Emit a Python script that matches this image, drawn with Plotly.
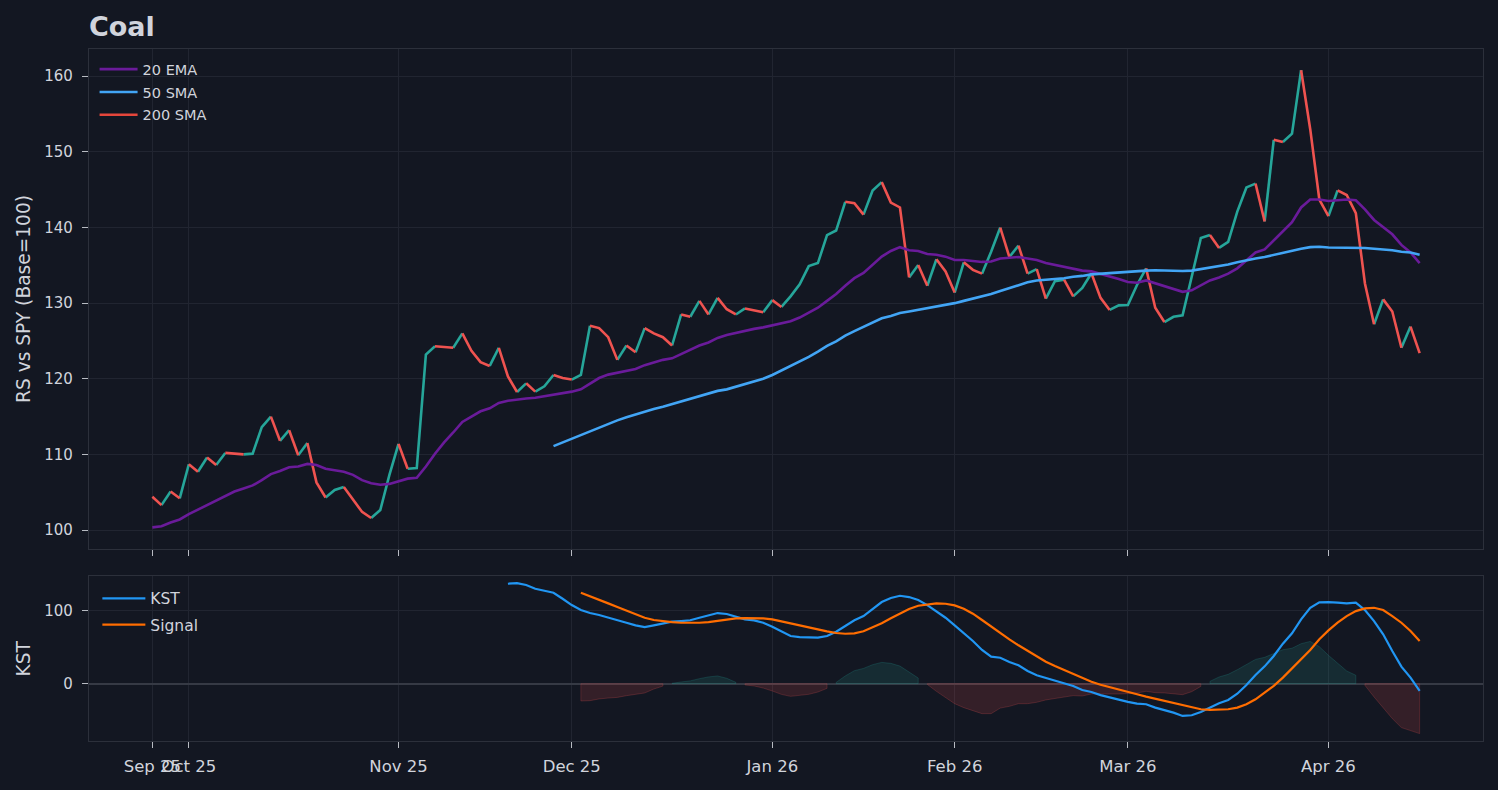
import pandas as pd
import plotly.graph_objects as go

# ---------------- data ----------------
holidays = ["2025-11-27", "2025-12-25", "2026-01-01", "2026-01-19", "2026-02-16", "2026-04-03"]
dates = [d.strftime("%Y-%m-%d") for d in pd.bdate_range("2025-09-25", "2026-04-16")
         if d.strftime("%Y-%m-%d") not in holidays]

rs = [104.4, 103.3, 105.1, 104.2, 108.7, 107.7, 109.6, 108.6, 110.2, 110.1,
      110.0, 110.1, 113.6, 115.0, 111.8, 113.2, 109.9, 111.5, 106.3, 104.3,
      105.3, 105.7, 104.0, 102.4, 101.6, 102.65, 107.3, 111.4, 108.1, 108.2,
      123.2, 124.3, 124.2, 124.1, 126.0, 123.7, 122.2, 121.7, 124.1, 120.3,
      118.25, 119.4, 118.3, 119.0, 120.5, 120.1, 119.9, 120.5, 127.0, 126.7,
      125.5, 122.5, 124.4, 123.5, 126.7, 126.0, 125.5, 124.4, 128.5, 128.2,
      130.3, 128.5, 130.7, 129.2, 128.5, 129.3, 129.1, 128.8, 130.4, 129.5,
      130.9, 132.5, 134.9, 135.3, 139.0, 139.6, 143.4, 143.2, 141.7, 144.9,
      146.0, 143.3, 142.65, 133.4, 135.05, 132.3, 135.8, 134.2, 131.4, 135.4,
      134.4, 133.9, 136.8, 140.0, 136.1, 137.6, 133.9, 134.5, 130.6, 132.9,
      133.1, 130.9, 132.0, 133.95, 130.7, 129.1, 129.7, 129.75, 132.4, 134.6,
      129.4, 127.5, 128.2, 128.4, 133.3, 138.6, 139.0, 137.3, 138.1, 142.1,
      145.3, 145.8, 140.8, 151.6, 151.3, 152.4, 160.8, 153.0, 143.7, 141.5,
      144.9, 144.3, 141.9, 132.6, 127.2, 130.5, 128.9, 124.1, 126.9, 123.4]

ema20 = [100.35, 100.5, 101.0, 101.4, 102.1, 102.7, 103.4, 104.0, 104.5, 105.1,
         105.5, 105.9, 106.6, 107.4, 107.8, 108.3, 108.4, 108.75, 108.6, 108.1,
         107.9, 107.7, 107.3, 106.6, 106.2, 106.0, 106.1, 106.5, 106.8, 106.9,
         108.4, 110.1, 111.6, 112.9, 114.3, 115.0, 115.7, 116.1, 116.8, 117.1,
         117.3, 117.4, 117.5, 117.7, 117.9, 118.1, 118.3, 118.6, 119.4, 120.1,
         120.55, 120.8, 121.0, 121.3, 121.8, 122.2, 122.5, 122.7, 123.25, 123.8,
         124.4, 124.8, 125.4, 125.8, 126.1, 126.3, 126.6, 126.8, 127.1, 127.3,
         127.6, 128.1, 128.7, 129.4, 130.3, 131.2, 132.3, 133.3, 134.0, 135.05,
         136.15, 136.9, 137.4, 137.0, 136.9, 136.5, 136.4, 136.15, 135.7, 135.7,
         135.6, 135.45, 135.5, 135.9, 136.0, 136.1, 135.9, 135.7, 135.3, 135.05,
         134.8, 134.5, 134.3, 134.2, 133.9, 133.5, 133.2, 132.8, 132.7, 133.0,
         132.6, 132.2, 131.8, 131.5, 131.7, 132.3, 133.0, 133.4, 133.9, 134.6,
         135.7, 136.7, 137.1, 138.3, 139.5, 140.7, 142.65, 143.7, 143.7, 143.5,
         143.6, 143.7, 143.6, 142.4, 141.0, 140.1, 139.1, 137.7, 136.7, 135.3]

sma50 = [None] * 44 + [
    111.1, 111.6, 112.0, 112.5, 113.1, 113.6, 114.0, 114.5, 114.9, 115.3,
    115.6, 116.0, 116.3, 116.65, 117.0, 117.4, 117.7, 118.1, 118.4, 118.6,
    118.95, 119.35, 119.65, 120.0, 120.5, 121.1, 121.65, 122.3, 122.9, 123.6,
    124.35, 124.95, 125.7, 126.3, 126.9, 127.5, 128.0, 128.3, 128.7, 128.9,
    129.1, 129.3, 129.5, 129.8, 130.0, 130.3, 130.6, 130.85, 131.2, 131.6,
    132.0, 132.4, 132.75, 133.0, 133.1, 133.2, 133.3, 133.5, 133.6, 133.8,
    133.9, 133.95, 134.0, 134.1, 134.2, 134.3, 134.35, 134.3, 134.3, 134.25,
    134.3, 134.5, 134.7, 134.9, 135.1, 135.4, 135.7, 135.9, 136.1, 136.4,
    136.7, 136.95, 137.2, 137.4, 137.45, 137.35, 137.35, 137.35, 137.35, 137.3,
    137.2, 137.1, 137.0, 136.8, 136.7, 136.4]

sma200 = [None] * 140  # not enough history: legend entry only

kst = [None] * 39 + [
    136.3, 137.2, 134.5, 129.5, 126.7, 124.0, 115.8, 107.2, 100.4, 96.3,
    93.6, 89.9, 85.8, 83.1, 79.5, 77.2, 79.5, 81.7, 84.5, 85.4,
    86.5, 89.9, 93.2, 96.3, 95.0, 90.9, 87.7, 86.4, 83.1, 77.7,
    70.8, 65.0, 63.4, 62.7, 62.7, 65.0, 70.8, 78.6, 86.4, 92.2,
    102.2, 111.3, 116.8, 119.9, 118.1, 114.0, 107.2, 99.0, 89.9, 79.5,
    69.5, 58.2, 45.9, 36.8, 35.4, 29.6, 25.0, 17.3, 11.4, 7.8,
    4.1, 0.5, -3.1, -8.6, -11.3, -15.6, -19.0, -22.2, -24.9, -27.2,
    -28.1, -32.7, -35.8, -39.5, -44.0, -43.1, -38.6, -32.7, -26.7, -22.2,
    -13.7, -1.8, 11.8, 23.6, 37.7, 54.5, 68.7, 87.7, 103.5, 110.9,
    111.3, 110.4, 109.5, 110.4, 100.4, 85.4, 67.3, 44.6, 23.2, 8.2,
    -9.9]

signal = [None] * 47 + [
    124.0, 119.5, 114.4, 109.5, 104.5, 99.5, 94.5, 89.9, 86.8, 85.0,
    84.0, 83.1, 82.7, 83.1, 84.0, 85.8, 87.7, 89.1, 89.5, 89.5,
    89.1, 87.7, 85.4, 82.3, 79.5, 77.2, 74.1, 71.4, 69.1, 68.1,
    68.7, 71.4, 76.3, 82.3, 89.1, 95.9, 101.8, 106.3, 108.2, 109.5,
    109.0, 106.8, 102.2, 95.4, 86.8, 77.7, 68.7, 60.5, 52.3, 44.6,
    36.8, 30.0, 24.1, 18.7, 13.2, 8.2, 2.7, -1.5, -4.5, -8.1,
    -11.3, -14.5, -17.7, -20.4, -23.2, -25.9, -29.0, -32.2, -34.9, -35.8,
    -35.8, -34.9, -32.7, -28.1, -21.3, -12.3, -3.1, 8.2, 20.4, 33.2,
    45.9, 60.5, 72.7, 83.1, 92.2, 99.0, 102.7, 103.5, 100.4, 92.2,
    83.1, 71.8, 58.2]

tick_dates = ["2025-09-25", "2025-10-01", "2025-11-03", "2025-12-01",
              "2026-01-02", "2026-02-02", "2026-03-02", "2026-04-01"]
tick_labels = ["Sep 25", "Oct 25", "Nov 25", "Dec 25", "Jan 26", "Feb 26", "Mar 26", "Apr 26"]
rs_ticks = [100, 110, 120, 130, 140, 150, 160]
kst_ticks = [0, 100]

# ---------------- style ----------------
BG = "#131722"
TXT = "#d1d4dc"
GRID = "#212531"
SPINE = "#2c303b"
UP = "#26a69a"
DN = "#ef5350"
FONT = "DejaVu Sans"

fig = go.Figure()

# RS line coloured by direction (runs of up / down segments)
up_x, up_y, dn_x, dn_y = [], [], [], []
i = 0
n = len(rs)
while i < n - 1:
    up = rs[i + 1] >= rs[i]
    j = i
    while j < n - 1 and (rs[j + 1] >= rs[j]) == up:
        j += 1
    tx, ty = (up_x, up_y) if up else (dn_x, dn_y)
    tx += dates[i:j + 1] + [dates[j]]
    ty += rs[i:j + 1] + [None]
    i = j

fig.add_trace(go.Scatter(x=up_x, y=up_y, mode="lines", line=dict(color=UP, width=2.6),
                         showlegend=False, hoverinfo="skip", connectgaps=False, xaxis="x", yaxis="y"))
fig.add_trace(go.Scatter(x=dn_x, y=dn_y, mode="lines", line=dict(color=DN, width=2.6),
                         showlegend=False, hoverinfo="skip", connectgaps=False, xaxis="x", yaxis="y"))

fig.add_trace(go.Scatter(x=dates, y=ema20, mode="lines", name="20 EMA",
                         line=dict(color="#6a1b9a", width=2.6), legend="legend",
                         legendgroup="a", xaxis="x", yaxis="y"))
fig.add_trace(go.Scatter(x=dates, y=sma50, mode="lines", name="50 SMA",
                         line=dict(color="#42a5f5", width=2.6), legend="legend",
                         legendgroup="b", xaxis="x", yaxis="y"))
fig.add_trace(go.Scatter(x=dates, y=sma200, mode="lines", name="200 SMA",
                         line=dict(color="#e5463b", width=2.6), legend="legend",
                         legendgroup="c", xaxis="x", yaxis="y"))

# KST histogram (KST - Signal): one filled polygon per run of equal sign
hist = [k - s if (k is not None and s is not None) else None for k, s in zip(kst, signal)]
runs = []
cur = None
for idx, h in enumerate(hist):
    sgn = None if (h is None or h == 0) else (h > 0)
    if sgn is None:
        cur = None
        continue
    if cur is not None and cur[0] == sgn:
        cur[1].append(idx)
    else:
        cur = [sgn, [idx]]
        runs.append(cur)
for sgn, idxs in runs:
    px = [dates[k] for k in idxs]
    py = [hist[k] for k in idxs]
    poly_x = [px[0]] + px + [px[-1], px[0]]
    poly_y = [0] + py + [0, 0]
    rgb = "38,166,154" if sgn else "239,83,80"
    fig.add_trace(go.Scatter(x=poly_x, y=poly_y, mode="lines", fill="toself",
                             line=dict(color=f"rgba({rgb},0.22)", width=1),
                             fillcolor=f"rgba({rgb},0.15)", showlegend=False,
                             hoverinfo="skip", xaxis="x2", yaxis="y2"))

fig.add_trace(go.Scatter(x=dates, y=kst, mode="lines", name="KST",
                         line=dict(color="#2196f3", width=2.2), legend="legend2",
                         legendgroup="k", xaxis="x2", yaxis="y2"))
fig.add_trace(go.Scatter(x=dates, y=signal, mode="lines", name="Signal",
                         line=dict(color="#ff6d00", width=2.2), legend="legend2",
                         legendgroup="s", xaxis="x2", yaxis="y2"))

xcommon = dict(type="category", categoryorder="array", categoryarray=dates,
               range=[-6.95, 145.95], tickmode="array", tickvals=tick_dates,
               tickangle=0, automargin=False,
               showgrid=True, gridcolor=GRID, gridwidth=1,
               showline=True, mirror=True, linecolor=SPINE, linewidth=1.3,
               ticks="outside", ticklen=6, tickwidth=1.3, tickcolor="#b8bbc3",
               zeroline=False, tickfont=dict(family=FONT, size=16.5, color=TXT))
ycommon = dict(showgrid=True, gridcolor=GRID, gridwidth=1, automargin=False,
               showline=True, mirror=True, linecolor=SPINE, linewidth=1.3,
               ticks="outside", ticklen=6, tickwidth=1.3, tickcolor="#b8bbc3",
               tickmode="array", ticklabelstandoff=6,
               tickfont=dict(family=FONT, size=15, color=TXT))

fig.update_layout(
    width=1498, height=790,
    paper_bgcolor=BG, plot_bgcolor=BG,
    margin=dict(l=89, r=15, t=49, b=49),
    font=dict(family=FONT, color=TXT),
    hovermode=False,
    title=dict(text="<b>Coal</b>", x=0, xref="paper", xanchor="left",
               y=1 - 27 / 790, yref="container", yanchor="middle",
               font=dict(family=FONT, size=27, color=TXT)),
    xaxis=dict(**xcommon, anchor="y", ticktext=[""] * len(tick_dates), showticklabels=False),
    xaxis2=dict(**xcommon, anchor="y2", matches="x", ticktext=tick_labels,
                ticklabelstandoff=4),
    yaxis=dict(**ycommon, domain=[0.2775, 1.0], range=[97.5, 163.6],
               tickvals=rs_ticks, zeroline=False, anchor="x"),
    yaxis2=dict(**ycommon, domain=[0.0, 0.2384], range=[-78.2, 146.8],
                tickvals=kst_ticks, zeroline=True, zerolinecolor="#363a45",
                zerolinewidth=1.6, anchor="x2"),
    legend=dict(x=0.004, y=0.994, xanchor="left", yanchor="top",
                bgcolor="rgba(0,0,0,0)", borderwidth=0, tracegroupgap=1,
                itemwidth=38,
                font=dict(family=FONT, size=14.5, color=TXT)),
    legend2=dict(x=0.006, y=0.23, xanchor="left", yanchor="top",
                 bgcolor="rgba(0,0,0,0)", borderwidth=0, tracegroupgap=3,
                 itemwidth=43,
                 font=dict(family=FONT, size=15.5, color=TXT)),
    annotations=[
        dict(text="RS vs SPY (Base=100)", textangle=-90, xref="paper", yref="paper",
             x=0, y=0.2775 + (1 - 0.2775) / 2, xanchor="center", yanchor="middle",
             xshift=-65, showarrow=False, font=dict(family=FONT, size=18.6, color=TXT)),
        dict(text="KST", textangle=-90, xref="paper", yref="paper",
             x=0, y=0.2384 / 2, xanchor="center", yanchor="middle",
             xshift=-65, showarrow=False, font=dict(family=FONT, size=18.6, color=TXT)),
    ],
)

fig.write_html("out.html", config={"displayModeBar": False},
               post_script="document.body.style.margin='0';document.body.style.overflow='hidden';")
